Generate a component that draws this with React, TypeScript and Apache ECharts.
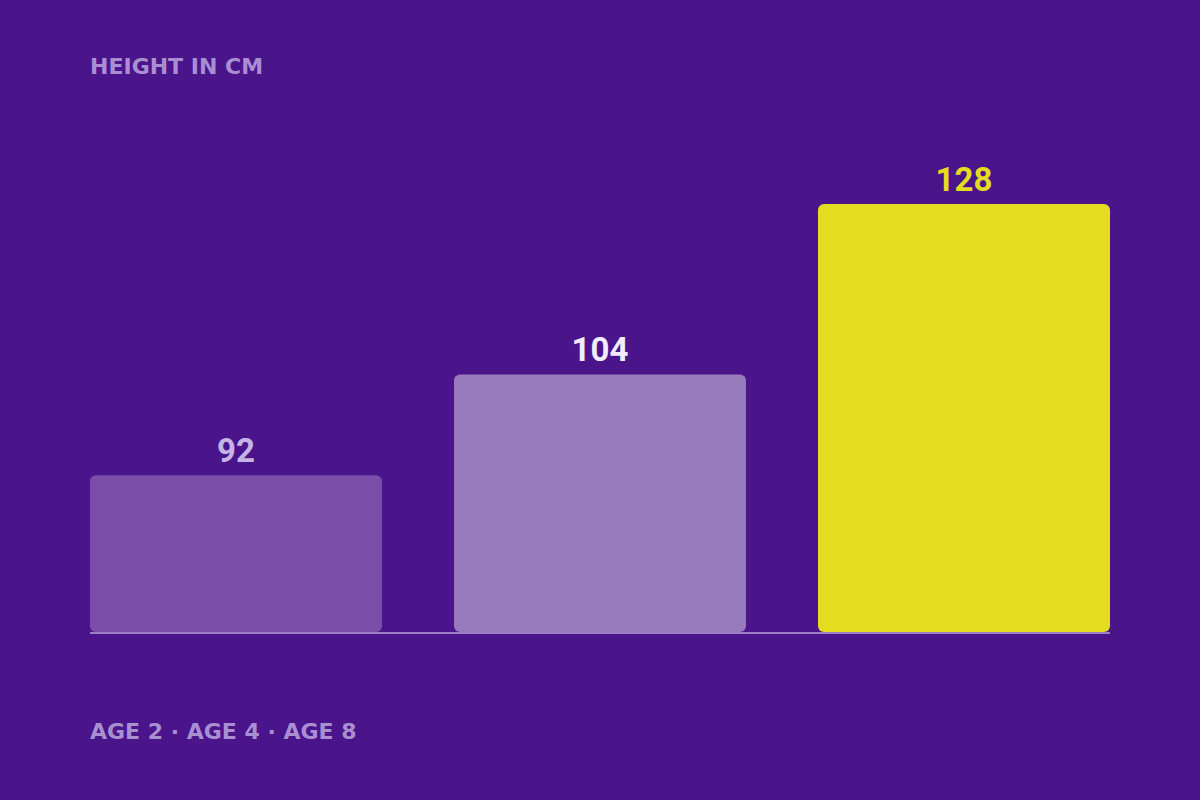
import React, { useEffect, useRef } from 'react';
import * as echarts from 'echarts';

const categories = ['Age 2', 'Age 4', 'Age 8'];
const heightsCm = [92, 104, 128];
const axisTitle = 'HEIGHT IN CM';
const footerText = 'AGE 2 · AGE 4 · AGE 8';

// palette, one entry per bar
const barColors = ['#7a4ea8', '#977abc', '#e3dc20'];
const labelColors = ['#c7b4e6', '#f1ebfb', '#e3dc20'];

const App: React.FC = () => {
    const chartRef = useRef<HTMLDivElement>(null);

    useEffect(() => {
        document.body.style.margin = '0';
        if (!chartRef.current) return;

        const chart = echarts.init(chartRef.current, undefined, { renderer: 'svg' });

        const option = {
            animation: false,
            backgroundColor: '#4a148a',
            grid: { left: 54, right: 54, top: 204, bottom: 168, containLabel: false },
            xAxis: {
                type: 'category',
                data: categories,
                show: false
            },
            // the picture's bars are compressed at the top, a log scale follows them best
            yAxis: {
                type: 'log',
                min: 76,
                max: 128,
                show: false
            },
            series: [
                {
                    type: 'bar',
                    barWidth: 292,
                    data: heightsCm.map((v, i) => ({
                        value: v,
                        itemStyle: { color: barColors[i], borderRadius: 6 },
                        label: { color: labelColors[i] }
                    })),
                    label: {
                        show: true,
                        position: 'top',
                        distance: 8,
                        fontFamily: 'Roboto',
                        fontWeight: 'bold',
                        fontSize: 33
                    },
                    z: 3
                }
            ],
            graphic: [
                {
                    type: 'text',
                    left: 90,
                    top: 55,
                    style: {
                        text: axisTitle,
                        fill: '#a98fd2',
                        font: 'bold 22px "DejaVu Sans"'
                    }
                },
                {
                    type: 'text',
                    left: 90,
                    top: 720,
                    style: {
                        text: footerText,
                        fill: '#a98fd2',
                        font: 'bold 22px "DejaVu Sans"'
                    }
                },
                {
                    type: 'line',
                    shape: { x1: 90, y1: 633, x2: 1110, y2: 633 },
                    style: { stroke: '#9c80c2', lineWidth: 2 },
                    z: 1
                }
            ]
        };

        chart.setOption(option);

        const handleResize = () => chart.resize();
        window.addEventListener('resize', handleResize);

        return () => {
            window.removeEventListener('resize', handleResize);
            chart.dispose();
        };
    }, []);

    return <div ref={chartRef} style={{ width: 1200, height: 800 }} />;
};

export default App;
